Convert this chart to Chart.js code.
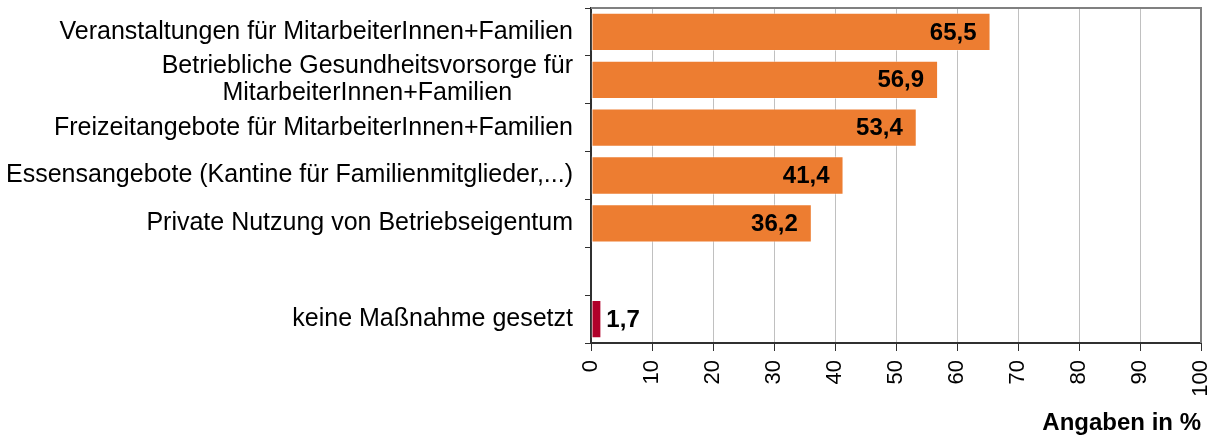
<!DOCTYPE html>
<html>
<head>
<meta charset="utf-8">
<script src="https://cdn.jsdelivr.net/npm/chart.js@4"></script>
<style>
  html, body { margin: 0; padding: 0; background: #fff; }
  #wrap { width: 1215px; height: 438px; position: relative; }
</style>
</head>
<body>
<div id="wrap"><canvas id="chart"></canvas></div>
<script>
// categories (empty slot between the measures and "keine Maßnahme")
const categories = [
  ['Veranstaltungen für MitarbeiterInnen+Familien'],
  ['Betriebliche Gesundheitsvorsorge für', 'MitarbeiterInnen+Familien'],
  ['Freizeitangebote für MitarbeiterInnen+Familien'],
  ['Essensangebote (Kantine für Familienmitglieder,...)'],
  ['Private Nutzung von Betriebseigentum'],
  [''],
  ['keine Maßnahme gesetzt']
];
const values = [65.5, 56.9, 53.4, 41.4, 36.2, null, 1.7];
const barColors = ['#ED7D31', '#ED7D31', '#ED7D31', '#ED7D31', '#ED7D31', '#ED7D31', '#B0002A'];
const xTicks = [0, 10, 20, 30, 40, 50, 60, 70, 80, 90, 100];
const axisTitle = 'Angaben in %';

const FONT = "'Liberation Sans', Arial, sans-serif";

const fmt = v => v.toFixed(1).replace('.', ',');

// category labels drawn by hand so wrapped lines stay centred on each other
const yLabelsPlugin = {
  id: 'yLabels',
  afterDraw(chart) {
    const { ctx } = chart;
    const yScale = chart.scales.y;
    const right = chart.chartArea.left - 18;
    ctx.save();
    ctx.font = '25px ' + FONT;
    ctx.fillStyle = '#000';
    ctx.textBaseline = 'middle';
    categories.forEach((lines, i) => {
      const y = yScale.getPixelForValue(i);
      const lh = 27;
      const widest = Math.max(...lines.map(l => ctx.measureText(l).width));
      const cx = right - widest / 2;
      ctx.textAlign = lines.length > 1 ? 'center' : 'right';
      lines.forEach((line, j) => {
        const ly = y + (j - (lines.length - 1) / 2) * lh;
        ctx.fillText(line, lines.length > 1 ? cx : right, ly);
      });
    });
    ctx.restore();
  }
};

// value labels: inside the end of long bars, outside for short ones
const valueLabelsPlugin = {
  id: 'valueLabels',
  afterDatasetsDraw(chart) {
    const { ctx } = chart;
    const meta = chart.getDatasetMeta(0);
    ctx.save();
    ctx.font = 'bold 24px ' + FONT;
    ctx.fillStyle = '#000';
    ctx.textBaseline = 'middle';
    meta.data.forEach((bar, i) => {
      const v = values[i];
      if (v === null) return;
      if (v > 10) {
        ctx.textAlign = 'right';
        ctx.fillText(fmt(v), bar.x - 14, bar.y + 1);
      } else {
        ctx.textAlign = 'left';
        ctx.fillText(fmt(v), bar.x + 5, bar.y + 1);
      }
    });
    ctx.restore();
  }
};

// top and right frame of the plot area
const framePlugin = {
  id: 'frame',
  afterDraw(chart) {
    const { ctx, chartArea: a } = chart;
    ctx.save();
    ctx.strokeStyle = '#808080';
    ctx.lineWidth = 2;
    ctx.beginPath();
    ctx.moveTo(a.left, a.top);
    ctx.lineTo(a.right, a.top);
    ctx.lineTo(a.right, a.bottom);
    ctx.stroke();
    ctx.restore();
  }
};

const ctx = document.getElementById('chart').getContext('2d');
new Chart(ctx, {
  type: 'bar',
  data: {
    labels: categories.map(c => c.join(' ')),
    datasets: [{
      data: values,
      backgroundColor: barColors,
      borderColor: 'rgba(255,255,255,0.45)',
      borderWidth: 1,
      borderSkipped: false,
      barPercentage: 0.8,
      categoryPercentage: 1.0
    }]
  },
  options: {
    indexAxis: 'y',
    responsive: true,
    maintainAspectRatio: false,
    animation: false,
    layout: { padding: { top: 8, right: 14, left: 0, bottom: 0 } },
    plugins: {
      legend: { display: false },
      tooltip: { enabled: false }
    },
    scales: {
      x: {
        min: 0,
        max: 100,
        afterBuildTicks: s => { s.ticks = xTicks.map(v => ({ value: v })); },
        afterFit: s => { s.height = 95; s.paddingRight = 0; s.paddingLeft = 0; },
        ticks: {
          font: { family: FONT, size: 22 },
          color: '#000',
          minRotation: 90,
          maxRotation: 90,
          padding: 9
        },
        grid: {
          color: '#C0C0C0',
          lineWidth: 1,
          tickLength: 8,
          tickColor: '#303030',
          drawTicks: true
        },
        border: { color: '#303030', width: 2 },
        title: {
          display: true,
          text: axisTitle,
          align: 'end',
          color: '#000',
          font: { family: FONT, size: 24, weight: 'bold' },
          padding: { top: 0, bottom: 0 }
        }
      },
      y: {
        offset: true,
        afterFit: s => { s.width = 591; },
        ticks: { display: false },
        grid: {
          offset: true,
          drawOnChartArea: false,
          drawTicks: true,
          tickLength: 6,
          tickColor: '#303030'
        },
        border: { color: '#303030', width: 2 }
      }
    }
  },
  plugins: [yLabelsPlugin, valueLabelsPlugin, framePlugin]
});
</script>
</body>
</html>
